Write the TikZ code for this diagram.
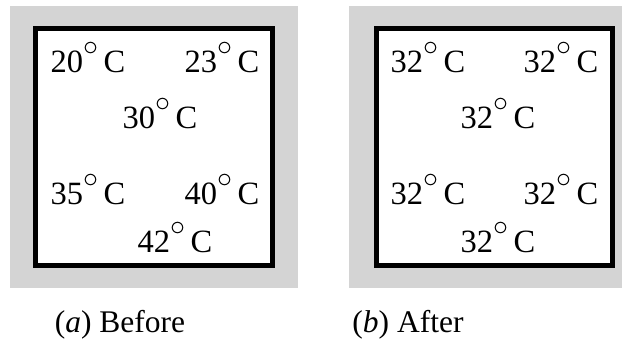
\documentclass[tikz,border=0pt]{standalone}
\usepackage{fontspec}
\setmainfont{Liberation Serif}
\usetikzlibrary{positioning}

\newcommand{\degc}{\raisebox{0.5em}{$\circ$}\,C}

\begin{document}
\begin{tikzpicture}[
  x=0.4pt, y=-0.4pt,
  panel/.style={fill=black!17, draw=none},
  plate/.style={draw=black, line width=2pt, fill=white},
  temp/.style={anchor=base, inner sep=0pt, font=\fontsize{13}{15}\selectfont},
  caption/.style={anchor=base, inner sep=0pt, font=\fontsize{12.6}{15}\selectfont}
]
\useasboundingbox (0,0) rectangle (622,348);

% Panels
\fill[panel] (10,6) rectangle (298,288);
\fill[panel] (349,6) rectangle (622,288);
\draw[plate] (35.5,28.5) rectangle (272.5,265.5);
\draw[plate] (376.5,28.5) rectangle (612.5,265.5);

% Before
\foreach \nm/\x/\y/\t in {ba/88/72/20, bb/222/72/23, bc/160/128/30, bd/88/204/35, be/222/204/40, bf/175/252/42}
  \node[temp] (\nm) at (\x,\y) {\t\degc};

% After
\foreach \nm/\x/\y in {aa/428/72, ab/561/72, ac/498/128, ad/428/204, ae/561/204, af/498/252}
  \node[temp] (\nm) at (\x,\y) {32\degc};

% Captions
\node[caption] (before) at (120,332) {(\textit{a}) Before};
\node[caption] (after) at (408,332) {(\textit{b}) After};
\end{tikzpicture}
\end{document}
